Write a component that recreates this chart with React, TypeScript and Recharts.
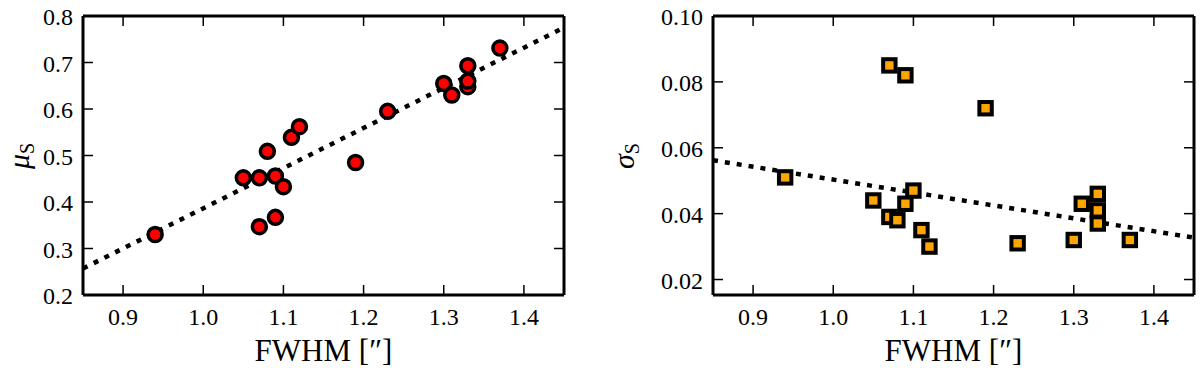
import React from "react";
import {
  ScatterChart,
  Scatter,
  XAxis,
  YAxis,
  Label,
} from "recharts";

// FWHM values shared by both panels (arcsec)
const fwhm = [0.94, 1.05, 1.07, 1.07, 1.08, 1.09, 1.09, 1.1, 1.11, 1.12, 1.19, 1.23, 1.3, 1.31, 1.33, 1.33, 1.33, 1.37];
const muS = [0.33, 0.452, 0.452, 0.347, 0.509, 0.456, 0.367, 0.433, 0.539, 0.562, 0.485, 0.595, 0.655, 0.63, 0.648, 0.66, 0.693, 0.731];
const sigmaS = [0.051, 0.044, 0.085, 0.039, 0.038, 0.082, 0.043, 0.047, 0.035, 0.03, 0.072, 0.031, 0.032, 0.043, 0.046, 0.041, 0.037, 0.032];

// linear fits (end points at the x-range limits)
const fitX = [0.85, 1.45];
const muFit = [0.257, 0.775];
const sigmaFit = [0.0562, 0.0327];

const xTicks = [0.9, 1.0, 1.1, 1.2, 1.3, 1.4];
const muTicks = [0.2, 0.3, 0.4, 0.5, 0.6, 0.7, 0.8];
const sigmaTicks = [0.02, 0.04, 0.06, 0.08, 0.1];

const FONT = '"Liberation Serif", "Times New Roman", Times, "DejaVu Serif", serif';
const TICK_LEN = 10;

const toPoints = (xs: number[], ys: number[]) => xs.map((x, i) => ({ x, y: ys[i] }));

const txt = (size: number) => ({ fontFamily: FONT, fontSize: size, fill: "#000" });

const BottomTick = (props: any) => {
  const { x, y, payload } = props;
  return (
    <g>
      <line x1={x} y1={y} x2={x} y2={y - TICK_LEN} stroke="#000" strokeWidth={1.5} />
      <text x={x} y={y + 30} textAnchor="middle" fontFamily={FONT} style={txt(24)}>
        {Number(payload.value).toFixed(1)}
      </text>
    </g>
  );
};

const TopTick = (props: any) => {
  const { x, y } = props;
  return <line x1={x} y1={y} x2={x} y2={y + TICK_LEN} stroke="#000" strokeWidth={1.5} />;
};

const makeLeftTick = (digits: number) => (props: any) => {
  const { x, y, payload } = props;
  return (
    <g>
      <line x1={x} y1={y} x2={x + TICK_LEN} y2={y} stroke="#000" strokeWidth={1.5} />
      <text x={x - 10} y={y + 9} textAnchor="end" fontFamily={FONT} style={txt(24)}>
        {Number(payload.value).toFixed(digits)}
      </text>
    </g>
  );
};

const RightTick = (props: any) => {
  const { x, y } = props;
  return <line x1={x} y1={y} x2={x - TICK_LEN} y2={y} stroke="#000" strokeWidth={1.5} />;
};

const Circle = (props: any) => (
  <circle cx={props.cx} cy={props.cy} r={7} fill="#ff0000" stroke="#000" strokeWidth={3.5} />
);

const Square = (props: any) => (
  <rect x={props.cx - 6.2} y={props.cy - 6.2} width={12.4} height={12.4} fill="#ffa500" stroke="#000" strokeWidth={4} />
);

const NoDot = () => <g />;

interface PanelProps {
  values: number[];
  fit: number[];
  yDomain: [number, number];
  yTicks: number[];
  digits: number;
  symbol: string;
  shape: (p: any) => React.ReactElement;
  leftWidth: number;
  rightWidth: number;
  titleX: number;
}

const Panel: React.FC<PanelProps> = ({
  values,
  fit,
  yDomain,
  yTicks,
  digits,
  symbol,
  shape,
  leftWidth,
  rightWidth,
  titleX,
}) => {
  const frame = { stroke: "#000", strokeWidth: 3 };
  return (
    <ScatterChart width={600} height={373} margin={{ top: 0, right: 0, bottom: 0, left: 0 }}>
      <XAxis
        xAxisId="x"
        type="number"
        dataKey="x"
        domain={[0.85, 1.45]}
        allowDataOverflow
        ticks={xTicks}
        tick={BottomTick}
        tickLine={false}
        tickSize={0}
        tickMargin={0}
        axisLine={frame}
        height={78}
      >
        <Label
          content={(p: any) => {
            const vb = p.viewBox;
            return (
              <text x={vb.x + vb.width / 2} y={vb.y + 66} textAnchor="middle" fontFamily={FONT} style={txt(31)}>
                FWHM [″]
              </text>
            );
          }}
        />
      </XAxis>
      <XAxis
        xAxisId="xt"
        orientation="top"
        type="number"
        dataKey="x"
        domain={[0.85, 1.45]}
        allowDataOverflow
        ticks={xTicks}
        tick={TopTick}
        tickLine={false}
        tickSize={0}
        tickMargin={0}
        axisLine={frame}
        height={16}
      />
      <YAxis
        yAxisId="y"
        type="number"
        dataKey="y"
        domain={yDomain}
        allowDataOverflow
        ticks={yTicks}
        tick={makeLeftTick(digits)}
        tickLine={false}
        tickSize={0}
        tickMargin={0}
        axisLine={frame}
        width={leftWidth}
      >
        <Label
          content={(p: any) => {
            const vb = p.viewBox;
            const cx = vb.x + titleX;
            const cy = 156;
            return (
              <text
                x={cx}
                y={cy}
                transform={`rotate(-90 ${cx} ${cy})`}
                textAnchor="middle"
                fontFamily={FONT}
                style={txt(30)}
              >
                <tspan fontStyle="italic">{symbol}</tspan>
                <tspan fontSize={20} dy={5}>S</tspan>
              </text>
            );
          }}
        />
      </YAxis>
      <YAxis
        yAxisId="yr"
        orientation="right"
        type="number"
        dataKey="y"
        domain={yDomain}
        allowDataOverflow
        ticks={yTicks}
        tick={RightTick}
        tickLine={false}
        tickSize={0}
        tickMargin={0}
        axisLine={frame}
        width={rightWidth}
      />
      <Scatter
        xAxisId="x"
        yAxisId="y"
        data={toPoints(fitX, fit)}
        line={{ stroke: "#000", strokeWidth: 4.5, strokeDasharray: "5 7" }}
        shape={NoDot}
        isAnimationActive={false}
      />
      <Scatter
        xAxisId="x"
        yAxisId="y"
        data={toPoints(fwhm, values)}
        shape={shape}
        isAnimationActive={false}
      />
    </ScatterChart>
  );
};

export default function App() {
  return (
    <div style={{ position: "absolute", left: 0, top: 0, width: 1200, height: 373, background: "#fff", display: "flex" }}>
      <Panel
        values={muS}
        fit={muFit}
        yDomain={[0.2, 0.8]}
        yTicks={muTicks}
        digits={1}
        symbol="μ"
        shape={Circle}
        leftWidth={83}
        rightWidth={36}
        titleX={29}
      />
      <Panel
        values={sigmaS}
        fit={sigmaFit}
        yDomain={[0.0153, 0.1]}
        yTicks={sigmaTicks}
        digits={2}
        symbol="σ"
        shape={Square}
        leftWidth={113}
        rightWidth={6}
        titleX={34}
      />
    </div>
  );
}
